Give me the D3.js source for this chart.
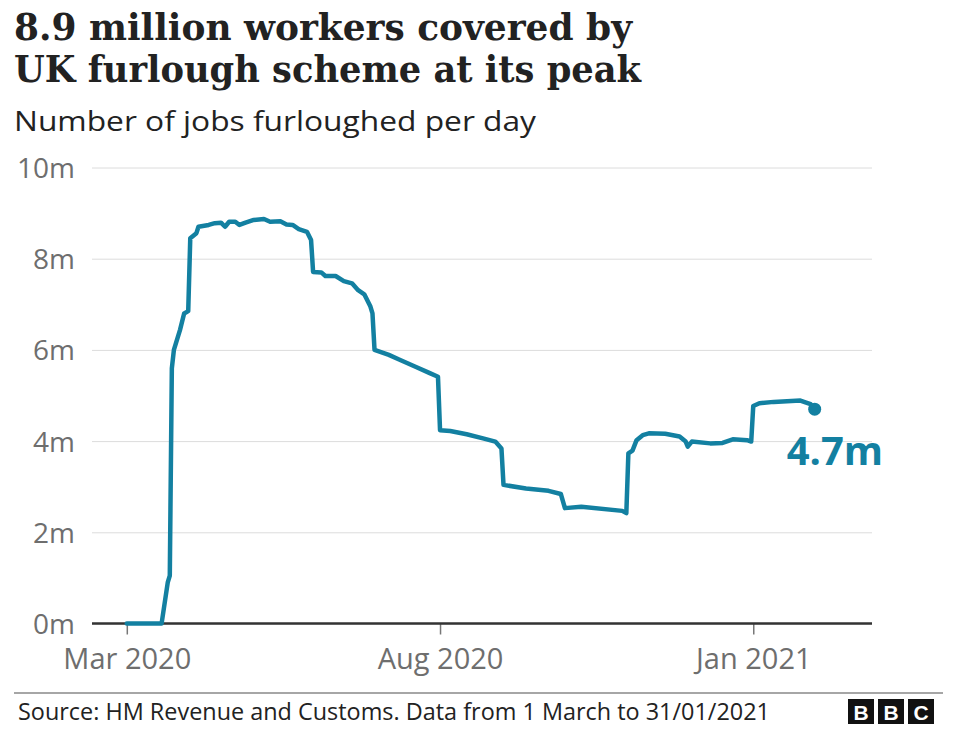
<!DOCTYPE html>
<html>
<head>
<meta charset="utf-8">
<script src="https://cdn.jsdelivr.net/npm/d3@7"></script>
<style>
  body { margin: 0; background: #fff; }
  svg { display: block; }
  .sans { font-family: "Open Sans", "Noto Sans", sans-serif; }
</style>
</head>
<body>
<svg id="chart" width="954" height="737"></svg>
<script>
// furloughed jobs per day, millions
const dates = [
  "2020-03-01", "2020-03-18", "2020-03-21", "2020-03-22", "2020-03-23", "2020-03-24",
  "2020-03-27", "2020-03-29", "2020-03-31", "2020-04-01", "2020-04-04", "2020-04-05",
  "2020-04-10", "2020-04-13", "2020-04-16", "2020-04-18", "2020-04-20", "2020-04-23",
  "2020-04-25", "2020-04-28", "2020-05-02", "2020-05-07", "2020-05-10", "2020-05-15",
  "2020-05-18", "2020-05-21", "2020-05-24", "2020-05-28", "2020-05-30", "2020-05-31",
  "2020-06-04", "2020-06-06", "2020-06-11", "2020-06-15", "2020-06-19", "2020-06-22",
  "2020-06-25", "2020-06-28", "2020-06-29", "2020-06-30", "2020-07-07", "2020-07-12",
  "2020-07-20", "2020-07-27", "2020-07-31", "2020-08-01", "2020-08-06", "2020-08-14",
  "2020-08-22", "2020-08-28", "2020-08-31", "2020-09-01", "2020-09-12", "2020-09-23",
  "2020-09-29", "2020-10-01", "2020-10-09", "2020-10-29", "2020-10-31", "2020-11-01",
  "2020-11-03", "2020-11-05", "2020-11-08", "2020-11-11", "2020-11-19", "2020-11-26",
  "2020-11-29", "2020-11-30", "2020-12-02", "2020-12-11", "2020-12-17", "2020-12-22",
  "2020-12-29", "2020-12-31", "2021-01-01", "2021-01-04", "2021-01-11", "2021-01-24",
  "2021-01-29", "2021-01-31"
];
const jobs = [
  0, 0, 0.9, 1.05, 5.6, 6.0,
  6.44, 6.8, 6.85, 8.45, 8.56, 8.7,
  8.74, 8.78, 8.79, 8.70, 8.81, 8.81,
  8.74, 8.79, 8.85, 8.87, 8.81, 8.82,
  8.75, 8.74, 8.65, 8.59, 8.41, 7.71,
  7.70, 7.62, 7.62, 7.51, 7.46, 7.31,
  7.22, 6.95, 6.80, 6.0, 5.89, 5.79,
  5.63, 5.49, 5.41, 4.24, 4.22, 4.15,
  4.06, 3.99, 3.84, 3.04, 2.96, 2.91,
  2.84, 2.53, 2.56, 2.47, 2.42, 3.73,
  3.79, 4.02, 4.13, 4.17, 4.16, 4.10,
  3.99, 3.88, 3.99, 3.95, 3.96, 4.04,
  4.02, 3.99, 4.77, 4.83, 4.86, 4.89,
  4.81, 4.70
];
const yTicks = [0, 2, 4, 6, 8, 10];
const xTicks = ["2020-03-01", "2020-08-01", "2021-01-01"];
const xTickLabels = ["Mar 2020", "Aug 2020", "Jan 2021"];
const lastLabel = "4.7m";

const parse = d3.timeParse("%Y-%m-%d");
const data = dates.map((d, i) => ({ date: parse(d), value: jobs[i] }));

const svg = d3.select("#chart");
const blue = "#1380a1";

const x = d3.scaleTime()
    .domain([parse("2020-02-13"), parse("2021-02-28")])
    .range([92, 872]);
const y = d3.scaleLinear()
    .domain([0, 10])
    .range([623.5, 167.5]);

// titles
const title = svg.append("g")
    .attr("font-family", "'DejaVu Serif', serif")
    .attr("font-weight", "bold")
    .attr("font-size", 37)
    .attr("fill", "#222");
title.append("text").attr("x", 14).attr("y", 40)
    .attr("textLength", 618).attr("lengthAdjust", "spacingAndGlyphs")
    .text("8.9 million workers covered by");
title.append("text").attr("x", 14).attr("y", 82)
    .attr("textLength", 627).attr("lengthAdjust", "spacingAndGlyphs")
    .text("UK furlough scheme at its peak");

svg.append("text")
    .attr("class", "sans")
    .attr("x", 14).attr("y", 131)
    .attr("font-size", 28)
    .attr("fill", "#222")
    .attr("textLength", 522).attr("lengthAdjust", "spacingAndGlyphs")
    .text("Number of jobs furloughed per day");

// y grid + labels
const yAxis = svg.append("g")
    .attr("transform", `translate(${x.range()[0]},0)`)
    .call(d3.axisLeft(y)
        .tickValues(yTicks)
        .tickSize(-(x.range()[1] - x.range()[0]))
        .tickPadding(17)
        .tickFormat(d => d + "m"));
yAxis.select(".domain").remove();
yAxis.selectAll(".tick line").attr("stroke", "#dcdcdc").attr("stroke-width", 1);
yAxis.selectAll(".tick text")
    .attr("class", "sans")
    .attr("font-size", 28)
    .attr("fill", "#6e6e6e")
    .attr("dy", "0.36em");

// x axis
const xAxis = svg.append("g")
    .attr("transform", `translate(0,${y(0)})`)
    .call(d3.axisBottom(x)
        .tickValues(xTicks.map(parse))
        .tickSize(11)
        .tickPadding(14)
        .tickFormat((d, i) => xTickLabels[i]));
xAxis.select(".domain").remove();
xAxis.selectAll(".tick line").attr("stroke", "#777").attr("stroke-width", 1.5);
xAxis.selectAll(".tick text")
    .attr("class", "sans")
    .attr("font-size", 29)
    .attr("fill", "#6e6e6e");

// zero baseline
svg.append("line")
    .attr("x1", x.range()[0]).attr("x2", x.range()[1])
    .attr("y1", y(0)).attr("y2", y(0))
    .attr("stroke", "#333").attr("stroke-width", 2.5);

// the line
const line = d3.line()
    .x(d => x(d.date))
    .y(d => y(d.value));

svg.append("path")
    .datum(data)
    .attr("fill", "none")
    .attr("stroke", blue)
    .attr("stroke-width", 4.5)
    .attr("stroke-linejoin", "round")
    .attr("stroke-linecap", "round")
    .attr("d", line);

const last = data[data.length - 1];
svg.append("circle")
    .attr("cx", x(last.date)).attr("cy", y(last.value))
    .attr("r", 6.5)
    .attr("fill", blue);

svg.append("text")
    .attr("class", "sans")
    .attr("x", x(last.date) - 28).attr("y", y(last.value) + 56)
    .attr("font-size", 40)
    .attr("font-weight", "bold")
    .attr("fill", blue)
    .text(lastLabel);

// footer
svg.append("line")
    .attr("x1", 14).attr("x2", 943)
    .attr("y1", 693).attr("y2", 693)
    .attr("stroke", "#888").attr("stroke-width", 1.5);

svg.append("text")
    .attr("class", "sans")
    .attr("x", 18).attr("y", 720)
    .attr("font-size", 23)
    .attr("fill", "#222")
    .attr("textLength", 752).attr("lengthAdjust", "spacingAndGlyphs")
    .text("Source: HM Revenue and Customs. Data from 1 March to 31/01/2021");

const logo = svg.append("g").attr("transform", "translate(848,699)");
["B", "B", "C"].forEach((c, i) => {
    logo.append("rect")
        .attr("x", i * 30).attr("y", 0)
        .attr("width", 26).attr("height", 25)
        .attr("fill", "#111");
    logo.append("text")
        .attr("x", i * 30 + 13).attr("y", 21)
        .attr("text-anchor", "middle")
        .attr("font-family", "'Liberation Sans', Arial, sans-serif")
        .attr("font-weight", "bold")
        .attr("font-size", 21)
        .attr("fill", "#fff")
        .text(c);
});
</script>
</body>
</html>
